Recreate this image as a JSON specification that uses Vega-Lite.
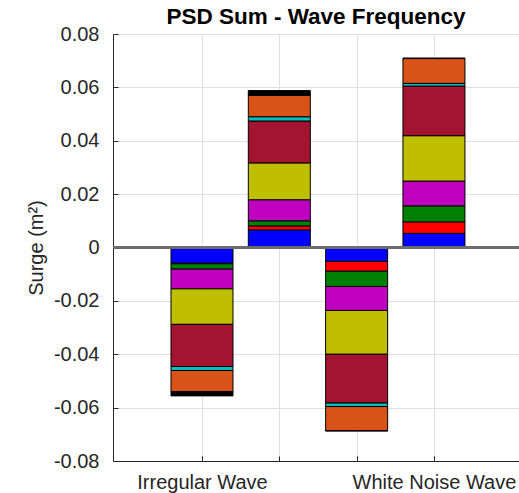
{
  "$schema": "https://vega.github.io/schema/vega-lite/v6.json",
  "width": 406,
  "height": 427,
  "autosize": "none",
  "padding": {"left": 113, "top": 34, "right": 0, "bottom": 32},
  "background": "white",
  "title": {"text": "PSD Sum - Wave Frequency", "font": "Liberation Sans", "fontSize": 22.5, "fontWeight": "bold", "color": "#000000", "anchor": "middle", "frame": "group", "baseline": "alphabetic", "offset": -22},
  "config": {
    "font": "Liberation Sans",
    "view": {"stroke": null},
    "axis": {"labelFont": "Liberation Sans", "titleFont": "Liberation Sans", "labelColor": "#262626", "titleColor": "#262626", "domainColor": "#262626", "tickColor": "#262626", "gridColor": "#dfdfdf", "gridOpacity": 1, "domainWidth": 1, "tickWidth": 1, "labelFontSize": 20, "titleFontSize": 20, "titleFontWeight": "normal"}
  },
  "data": {"values": [
    {"bar": 1, "wave": "Irregular Wave", "component": "C1", "k": 1, "psd": -0.0059},
    {"bar": 1, "wave": "Irregular Wave", "component": "C2", "k": 2, "psd": -0.0002},
    {"bar": 1, "wave": "Irregular Wave", "component": "C3", "k": 3, "psd": -0.0020},
    {"bar": 1, "wave": "Irregular Wave", "component": "C4", "k": 4, "psd": -0.0074},
    {"bar": 1, "wave": "Irregular Wave", "component": "C5", "k": 5, "psd": -0.0133},
    {"bar": 1, "wave": "Irregular Wave", "component": "C6", "k": 6, "psd": -0.0158},
    {"bar": 1, "wave": "Irregular Wave", "component": "C7", "k": 7, "psd": -0.0015},
    {"bar": 1, "wave": "Irregular Wave", "component": "C8", "k": 8, "psd": -0.0079},
    {"bar": 1, "wave": "Irregular Wave", "component": "C9", "k": 9, "psd": -0.0016},
    {"bar": 2, "wave": "Irregular Wave", "component": "C1", "k": 1, "psd": 0.0066},
    {"bar": 2, "wave": "Irregular Wave", "component": "C2", "k": 2, "psd": 0.0015},
    {"bar": 2, "wave": "Irregular Wave", "component": "C3", "k": 3, "psd": 0.0019},
    {"bar": 2, "wave": "Irregular Wave", "component": "C4", "k": 4, "psd": 0.0079},
    {"bar": 2, "wave": "Irregular Wave", "component": "C5", "k": 5, "psd": 0.0138},
    {"bar": 2, "wave": "Irregular Wave", "component": "C6", "k": 6, "psd": 0.0157},
    {"bar": 2, "wave": "Irregular Wave", "component": "C7", "k": 7, "psd": 0.0016},
    {"bar": 2, "wave": "Irregular Wave", "component": "C8", "k": 8, "psd": 0.0080},
    {"bar": 2, "wave": "Irregular Wave", "component": "C9", "k": 9, "psd": 0.0018},
    {"bar": 3, "wave": "White Noise Wave", "component": "C1", "k": 1, "psd": -0.0052},
    {"bar": 3, "wave": "White Noise Wave", "component": "C2", "k": 2, "psd": -0.0037},
    {"bar": 3, "wave": "White Noise Wave", "component": "C3", "k": 3, "psd": -0.0057},
    {"bar": 3, "wave": "White Noise Wave", "component": "C4", "k": 4, "psd": -0.0090},
    {"bar": 3, "wave": "White Noise Wave", "component": "C5", "k": 5, "psd": -0.0164},
    {"bar": 3, "wave": "White Noise Wave", "component": "C6", "k": 6, "psd": -0.0183},
    {"bar": 3, "wave": "White Noise Wave", "component": "C7", "k": 7, "psd": -0.0013},
    {"bar": 3, "wave": "White Noise Wave", "component": "C8", "k": 8, "psd": -0.0090},
    {"bar": 3, "wave": "White Noise Wave", "component": "C9", "k": 9, "psd": -0.0002},
    {"bar": 4, "wave": "White Noise Wave", "component": "C1", "k": 1, "psd": 0.0053},
    {"bar": 4, "wave": "White Noise Wave", "component": "C2", "k": 2, "psd": 0.0043},
    {"bar": 4, "wave": "White Noise Wave", "component": "C3", "k": 3, "psd": 0.0060},
    {"bar": 4, "wave": "White Noise Wave", "component": "C4", "k": 4, "psd": 0.0093},
    {"bar": 4, "wave": "White Noise Wave", "component": "C5", "k": 5, "psd": 0.0170},
    {"bar": 4, "wave": "White Noise Wave", "component": "C6", "k": 6, "psd": 0.0186},
    {"bar": 4, "wave": "White Noise Wave", "component": "C7", "k": 7, "psd": 0.0010},
    {"bar": 4, "wave": "White Noise Wave", "component": "C8", "k": 8, "psd": 0.0093},
    {"bar": 4, "wave": "White Noise Wave", "component": "C9", "k": 9, "psd": 0.0002}
  ]},
  "layer": [
    {
      "mark": {"type": "bar", "size": 62, "stroke": "#000000", "strokeWidth": 1},
      "encoding": {
        "x": {"field": "bar", "type": "quantitative", "scale": {"domain": [-0.151, 5.1], "nice": false, "zero": false, "padding": 0},
              "axis": {"values": [1, 2, 3, 4], "grid": true, "title": null, "tickSize": -5, "labelPadding": 16, "labelBaseline": "top",
                       "labelExpr": "datum.value == 1 ? 'Irregular Wave' : (datum.value == 4 ? 'White Noise Wave' : '')"}},
        "y": {"field": "psd", "type": "quantitative", "stack": "zero", "scale": {"domain": [-0.08, 0.08], "nice": false},
              "axis": {"values": [-0.08, -0.06, -0.04, -0.02, 0, 0.02, 0.04, 0.06, 0.08], "grid": true, "title": "Surge (m²)", "tickSize": -5, "labelPadding": 19,
                       "labelExpr": "datum.value === 0 ? '0' : (datum.value < 0 ? '-' : '') + format(abs(datum.value), '.2f')",
                       "titleX": -77, "titleY": 213.5, "titleAngle": -90, "titleAlign": "center", "titleBaseline": "middle"}},
        "color": {"field": "component", "type": "nominal", "legend": null,
                  "scale": {"domain": ["C1", "C2", "C3", "C4", "C5", "C6", "C7", "C8", "C9"],
                            "range": ["#0000ff", "#ff0000", "#008000", "#bf00bf", "#bfbf00", "#a2142f", "#00bfbf", "#d95319", "#000000"]}},
        "order": {"field": "k", "type": "quantitative"}
      }
    },
    {
      "mark": {"type": "rule", "color": "#6e6e6e", "strokeWidth": 1.5},
      "encoding": {"y": {"datum": 0}}
    }
  ]
}
